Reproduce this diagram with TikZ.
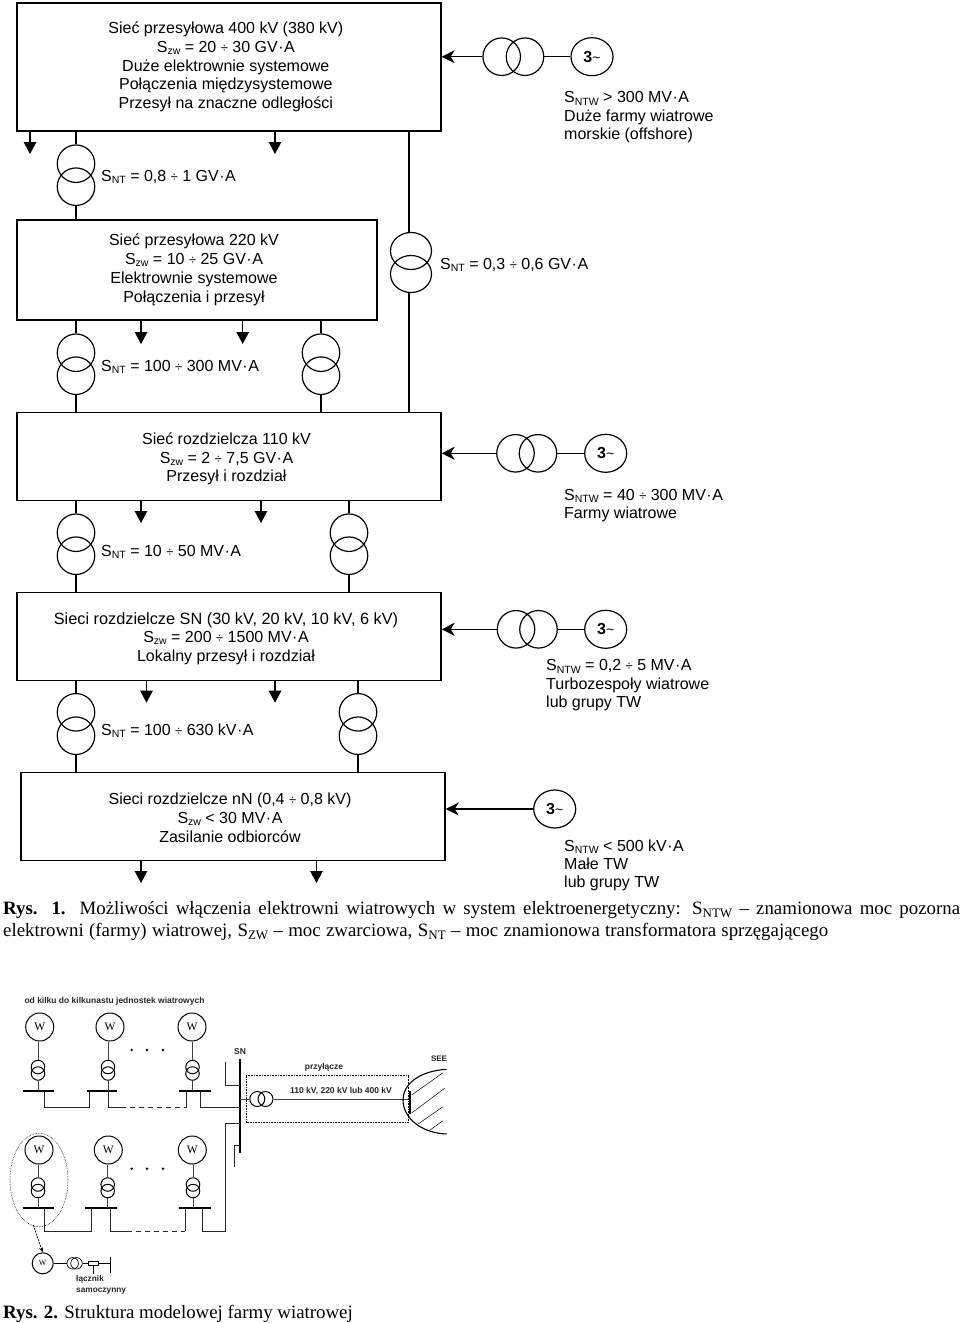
\documentclass[tikz,border=0pt]{standalone}
\usepackage{fontspec}
\setmainfont{Liberation Serif}
\newfontfamily\arialf{Liberation Sans}
\usetikzlibrary{arrows.meta,calc,shapes.geometric}
\newcommand{\sbs}[1]{\raisebox{-2.2pt}{\fontsize{10.5}{10.5}\selectfont #1}}
\newcommand{\md}{\kern0.5pt·\kern0.5pt}
\newcommand{\DV}{\ {\fontsize{13}{13}\selectfont ÷}\ }
\tikzset{
 box/.style={draw,line width=1.3pt,fill=none},
 ln/.style={line width=1.2pt},
 lnb/.style={line width=1pt,black!85},
 feed/.style={line width=1.2pt,-{Triangle[length=12pt,width=12.5pt]}},
 inn/.style={line width=1.2pt,-{Stealth[length=13pt,width=13pt,inset=4pt]}},
 trc/.style={draw,line width=1.2pt,ellipse,minimum width=37.5pt,minimum height=37.5pt,inner sep=0pt},
 gen/.style={draw,line width=1.2pt,circle,minimum size=38pt,inner sep=0pt,font=\arialf\fontsize{16}{18}\selectfont\bfseries},
 txt/.style={font=\arialf\fontsize{16}{18.7}\selectfont,align=center,inner sep=0pt},
 ltxt/.style={font=\arialf\fontsize{16}{18.3}\selectfont,align=left,inner sep=0pt,anchor=north west},
 captxt/.style={font=\fontsize{18.85}{22}\selectfont,inner sep=0pt,anchor=north west},
 s1/.style={line width=1pt,black!75},
 bus/.style={line width=1.9pt},
 wc/.style={draw,line width=1pt,circle,minimum size=28pt,inner sep=0pt,font=\fontsize{11.5}{11.5}\selectfont},
 tc/.style={draw,line width=1pt,circle,minimum size=13.5pt,inner sep=0pt},
 small/.style={font=\arialf\fontsize{8.5}{10.6}\selectfont\bfseries,inner sep=0pt,text=black!85},
 dt/.style={circle,fill=black,inner sep=0pt,minimum size=2.6pt},
}
\begin{document}
\begin{tikzpicture}[x=1pt,y=-1pt]
\useasboundingbox (0,0) rectangle (960,1323);
% boxes
\node[box,minimum width=424pt,minimum height=128pt,inner sep=0pt] (b1) at (229,67) {};
\node[box,minimum width=360pt,minimum height=100pt,inner sep=0pt] (b2) at (197,270) {};
\node[box,minimum width=424pt,minimum height=88pt,inner sep=0pt] (b3) at (229,456.8) {};
\node[box,minimum width=424pt,minimum height=88pt,inner sep=0pt] (b4) at (229,636.7) {};
\node[box,minimum width=424pt,minimum height=88pt,inner sep=0pt] (b5) at (233,816.2) {};
% box texts
\node[txt] (t1) at (225.8,67) {Sieć przesyłowa 400 kV (380 kV)\\S\sbs{zw} = 20\DV 30 GV\md A\\Duże elektrownie systemowe\\Połączenia międzysystemowe\\Przesył na znaczne odległości};
\node[txt,font=\arialf\fontsize{16}{19}\selectfont] (t2) at (194,270) {Sieć przesyłowa 220 kV\\S\sbs{zw} = 10\DV 25 GV\md A\\Elektrownie systemowe\\Połączenia i przesył};
\node[txt] (t3) at (226.5,459) {Sieć rozdzielcza 110 kV\\S\sbs{zw} = 2\DV 7,5 GV\md A\\Przesył i rozdział};
\node[txt] (t4) at (226,638.5) {{\fontsize{16.3}{18.7}\selectfont Sieci rozdzielcze SN (30 kV, 20 kV, 10 kV, 6 kV)}\\S\sbs{zw} = 200\DV 1500 MV\md A\\Lokalny przesył i rozdział};
\node[txt] (t5) at (230,817.7) {Sieci rozdzielcze nN (0,4\DV 0,8 kV)\\S\sbs{zw} < 30 MV\md A\\Zasilanie odbiorców};
% vertical transformers
\foreach \n/\x/\ya/\yb/\ta/\tb in {
 a/76/163.7/186.7/b1/b2,
 c/76/352.7/375.7/b2/b3, d/321/352.7/375.7/b2/b3,
 e/76/532.7/555.7/b3/b4, f/349/532.7/555.7/b3/b4,
 g/76/712.3/735.7/b4/b5, h/358/712.3/735.7/b4/b5}{
 \node[trc] (\n1) at (\x,\ya) {};
 \node[trc] (\n2) at (\x,\yb) {};
 \draw[ln] (\n1.north) -- (\n1.north |- \ta.south);
 \draw[ln] (\n2.south) -- (\n2.south |- \tb.north);
}
% long transformer right of b2
\node[trc,minimum width=41pt,minimum height=37pt] (k1) at (411,251) {};
\node[trc,minimum width=41pt,minimum height=37pt] (k2) at (411,274) {};
\coordinate (kt) at (409,131);
\coordinate (kb) at (409,413);
\draw[ln] (kt) -- (k1.north -| kt);
\draw[ln] (k2.south -| kb) -- (kb);
% load arrows
\foreach \nn/\b/\x/\y in {p1/b1/30/154,p2/b1/275/154,p3/b2/141/344,p4/b2/242.7/344,p5/b3/141/523,p6/b3/261/523,p7/b4/146.5/702.7,p8/b4/275/702.7,p9/b5/141/883,p10/b5/316.5/883}{
 \coordinate (\nn) at (\x,\y);
 \draw[feed] (\b.south -| \nn) -- (\nn);
}
% side feeders
\foreach \n/\b/\xa/\xb/\xg/\y in {q/b1/501.7/525/592/56.7,r/b3/515.5/538/605.7/453.3,s/b4/516/538.5/605.7/629.3}{
 \coordinate (\n0) at (\xa,\y);
 \node[trc] (\n1) at (\xa,\y) {};
 \node[trc] (\n2) at (\xb,\y) {};
 \node[gen,minimum width=42pt,minimum height=38pt,ellipse] (\n3) at (\xg,\y) {3\raisebox{0pt}{\fontsize{14}{14}\selectfont\mdseries\~{}}};
 \draw[ln] (\n2.east) -- (\n3.west);
 \draw[inn] (\n1.west) -- (\b.east |- \n0);
}
\node[gen,minimum width=42pt,minimum height=38pt,ellipse] (u3) at (554.7,809) {3\raisebox{0pt}{\fontsize{14}{14}\selectfont\mdseries\~{}}};
\draw[inn] (u3.west) -- (b5.east |- u3);
% labels
\node[ltxt,anchor=west] (la) at (101,177) {S\sbs{NT} = 0,8\DV 1 GV\md A};
\node[ltxt,anchor=west] (lb) at (440,265) {S\sbs{NT} = 0,3\DV 0,6 GV\md A};
\node[ltxt,anchor=west] (lc) at (101,367) {S\sbs{NT} = 100\DV 300 MV\md A};
\node[ltxt,anchor=west] (ld) at (101,552) {S\sbs{NT} = 10\DV 50 MV\md A};
\node[ltxt,anchor=west] (le) at (101,731) {S\sbs{NT} = 100\DV 630 kV\md A};
\node[ltxt] (lf) at (564,91.5) {S\sbs{NTW} > 300 MV\md A\\Duże farmy wiatrowe\\morskie (offshore)};
\node[ltxt] (lg) at (564,489) {S\sbs{NTW} = 40\DV 300 MV\md A\\Farmy wiatrowe};
\node[ltxt] (lh) at (546,659.5) {S\sbs{NTW} = 0,2\DV 5 MV\md A\\Turbozespoły wiatrowe\\lub grupy TW};
\node[ltxt] (li) at (564,839.5) {S\sbs{NTW} < 500 kV\md A\\Małe TW\\lub grupy TW};
% captions
\node[captxt,align=left] (c1) at (3,901.3) {\makebox[957pt][s]{\textbf{Rys. 1.} Możliwości włączenia elektrowni wiatrowych w system elektroenergetyczny: S\raisebox{-2.5pt}{\fontsize{13}{13}\selectfont NTW} -- znamionowa moc pozorna}\\\makebox[825pt][s]{elektrowni (farmy) wiatrowej, S\raisebox{-2.5pt}{\fontsize{13}{13}\selectfont ZW} -- moc zwarciowa, S\raisebox{-2.5pt}{\fontsize{13}{13}\selectfont NT} -- moc znamionowa transformatora sprzęgającego}};
\node[captxt,anchor=base west] (c2) at (3,1318) {\textbf{Rys. 2.} Struktura modelowej farmy wiatrowej};
% ---- lower figure
\node[small] (tt) at (114.5,1001.7) {od kilku do kilkunastu jednostek wiatrowych};
\foreach \n/\xw/\yw/\xt/\yb/\ba/\bb in {
 A/39.7/1027/38/1067/22.7/54,
 B/110/1027/108/1067/86.7/117.3,
 C/192/1027/192.5/1067/178.7/210.7,
 D/39/1150/38/1184.5/22.7/54,
 E/108.3/1150/107.7/1184.5/85/117,
 F/192.3/1150/193/1184.5/178.7/210.7}{
 \node[wc] (\n w) at (\xw,\yw) {W};
 \node[tc] (\n a) at (\xt,\yb) {};
 \node[tc] (\n b) at (\xt,\yb+6.5) {};
 \draw[s1] (\n w.south -| \n a) -- (\n a.north);
 \coordinate (\n l) at (\ba,\yb+23.7);
 \coordinate (\n r) at (\bb,\yb+23.7);
 \draw[bus] (\n l) -- (\n r);
 \draw[s1] (\n b.south) -- (\n b.south |- \n l);
}
% dots
\foreach \x/\y [count=\i] in {131.7/1050,147/1050,163/1050,131.7/1168.7,147/1168.7,163/1168.7}{
 \node[dt] (dot\i) at (\x,\y) {};
}
% SN bus
\coordinate (sna) at (240.3,1059);
\coordinate (snb) at (240.3,1153);
\draw[line width=2pt] (sna) -- (snb);
\node[small] (snl) at (240,1052) {SN};
% upper row links
\draw[lnb] (44,1090.7) -- (44,1107.7) -- (89.3,1107.7) -- (89.3,1090.7);
\draw[lnb] (108,1090.7) -- (108,1107.7) -- (121,1107.7);
\draw[lnb,dash pattern=on 5pt off 4pt] (121,1107.7) -- (186,1107.7);
\draw[lnb] (186,1107.7) -- (186,1090.7);
\draw[lnb] (200,1090.7) -- (200,1107.7) -- (240.3,1107.7);
\draw[lnb] (225.3,1061.7) -- (225.3,1085) -- (240.3,1085);
% lower row links
\draw[lnb] (44,1208) -- (44,1231) -- (91.7,1231) -- (91.7,1208);
\draw[lnb] (110,1208) -- (110,1231) -- (126.7,1231);
\draw[lnb,dash pattern=on 5pt off 4pt] (126.7,1231) -- (185.3,1231);
\draw[lnb] (185.3,1231) -- (185.3,1208);
\draw[lnb] (202,1208) -- (202,1231) -- (225.7,1231) -- (225.7,1123) -- (240.3,1123);
\draw[lnb] (234.7,1166.7) -- (234.7,1145) -- (240.3,1145);
% dotted ellipse & arrow
\node[draw,densely dotted,line width=0.6pt,ellipse,minimum width=58pt,minimum height=93.5pt,inner sep=0pt] (el) at (39,1180) {};
\node[wc,minimum size=21pt,font=\fontsize{8}{8}\selectfont] (mw) at (42.7,1263.3) {W};
\draw[line width=0.7pt,dash pattern=on 2pt off 1pt,-{Stealth[length=5pt,width=4pt]}] (33.3,1225) -- (mw.north);
\node[tc,minimum size=11.5pt,line width=0.7pt] (mt1) at (72.7,1263.3) {};
\node[tc,minimum size=11.5pt,line width=0.7pt] (mt2) at (76.5,1263.3) {};
\node[draw,line width=0.6pt,minimum width=10pt,minimum height=3.5pt,inner sep=0pt] (sw) at (93.2,1263.3) {};
\coordinate (mb) at (110,1263.3);
\draw[line width=0.7pt] (mw) -- (mt1);
\draw[line width=0.7pt] (mt2) -- (sw);
\draw[line width=0.7pt] (sw) -- (mb);
\draw[line width=1pt] (110,1256.7) -- (110,1272.7);
\draw[line width=0.7pt] (sw.south) -- ++(0,9);
\node[small,anchor=north west,align=left,font=\arialf\fontsize{8.3}{10.6}\selectfont\bfseries] (sw1) at (76,1275.5) {łącznik\\samoczynny};
% main connection
\node[tc,minimum size=15pt] (Ma) at (257.3,1099) {};
\node[tc,minimum size=15pt] (Mb) at (265.5,1099) {};
\draw[s1] (sna |- Ma) -- (Ma);
\coordinate (see) at (410,1099);
\draw[s1] (Mb) -- (see);
\draw[line width=2pt] (410,1091) -- (410,1114);
\node[draw,densely dotted,line width=0.6pt,minimum width=161.3pt,minimum height=47pt,inner sep=0pt] (pr) at (327.3,1099.2) {};
\draw[line width=1.1pt] (446.7,1069.3) .. controls (418,1071) and (403,1085) .. (403,1100) .. controls (403,1117) and (420,1133) .. (446.7,1134);
\draw[line width=0.5pt] (411.7,1095) -- (443,1072.7) (411.7,1113) -- (445,1088) (418,1124) -- (443,1106.7) (430,1130) -- (443,1120.7);
\node[small,font=\arialf\fontsize{8}{10}\selectfont\bfseries] (seel) at (439,1058.7) {SEE};
\node[small] (prl) at (324,1067.7) {przyłącze};
\node[small] (kvl) at (341,1091) {110 kV, 220 kV lub 400 kV};
\end{tikzpicture}
\end{document}
